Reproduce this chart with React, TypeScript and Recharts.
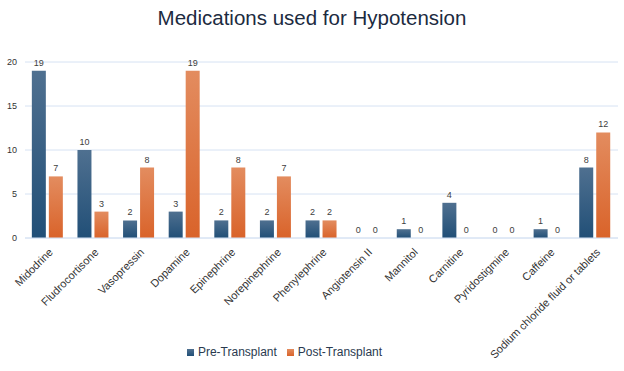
import React from "react";
import { BarChart, Bar, XAxis, YAxis, CartesianGrid, Legend, LabelList } from "recharts";

const categories = [
  "Midodrine",
  "Fludrocortisone",
  "Vasopressin",
  "Dopamine",
  "Epinephrine",
  "Norepinephrine",
  "Phenylephrine",
  "Angiotensin II",
  "Mannitol",
  "Carnitine",
  "Pyridostigmine",
  "Caffeine",
  "Sodium chloride fluid or tablets",
];
const preTransplant = [19, 10, 2, 3, 2, 2, 2, 0, 1, 4, 0, 1, 8];
const postTransplant = [7, 3, 8, 19, 8, 7, 2, 0, 0, 0, 0, 0, 12];
const yTicks = [0, 5, 10, 15, 20];

const data = categories.map((name, i) => ({
  name,
  pre: preTransplant[i],
  post: postTransplant[i],
}));

const FONT = "'Liberation Sans', Arial, sans-serif";

const XTick = (props: any) => {
  const { x, y, payload } = props;
  return (
    <g transform={`translate(${x + 3},${y + 4})`}>
      <text
        transform="rotate(-45)"
        textAnchor="end"
        dominantBaseline="central"
        fontSize={11}
        fill="#333"
        fontFamily={FONT}
      >
        {payload.value}
      </text>
    </g>
  );
};

const legendOrder = (item: any) => (item.dataKey === "pre" ? 0 : 1);

export default function App() {
  return (
    <div style={{ position: "absolute", left: 0, top: 0, width: 624, height: 371, background: "#fff", fontFamily: FONT }}>
      <svg width={0} height={0} style={{ position: "absolute" }}>
        <defs>
          <linearGradient id="gPre" x1="0" y1="0" x2="0" y2="1">
            <stop offset="0%" stopColor="#4f7090" />
            <stop offset="100%" stopColor="#214f77" />
          </linearGradient>
          <linearGradient id="gPost" x1="0" y1="0" x2="0" y2="1">
            <stop offset="0%" stopColor="#e38c5f" />
            <stop offset="100%" stopColor="#d9632a" />
          </linearGradient>
        </defs>
      </svg>
      <div
        style={{
          position: "absolute",
          top: 6,
          left: 0,
          width: 624,
          textAlign: "center",
          fontSize: 20.5,
          color: "#1c2b3f",
          fontFamily: FONT,
        }}
      >
        Medications used for Hypotension
      </div>
      <BarChart
        width={624}
        height={371}
        data={data}
        margin={{ top: 62, right: 6, bottom: 0, left: 5 }}
        barCategoryGap="15%"
        barGap={3}
      >
        <CartesianGrid vertical={false} stroke="#d6e2f3" />
        <XAxis
          dataKey="name"
          interval={0}
          tick={<XTick />}
          tickLine={false}
          axisLine={{ stroke: "#d6e2f3" }}
          height={107}
        />
        <YAxis
          domain={[0, 20]}
          ticks={yTicks}
          width={20}
          tickLine={false}
          axisLine={false}
          tick={{ fontSize: 9, fill: "#333", fontFamily: FONT }}
        />
        <Legend
          verticalAlign="bottom"
          height={26}
          iconType="square"
          iconSize={7}
          itemSorter={legendOrder}
          wrapperStyle={{ fontSize: 12, fontFamily: FONT, left: -17 }}
          formatter={(v: string) => <span style={{ color: "#2a3a4f" }}>{v}</span>}
        />
        <Bar dataKey="pre" name="Pre-Transplant" fill="url(#gPre)" legendType="square" isAnimationActive={false} minPointSize={0.01}>
          <LabelList dataKey="pre" position="top" fontSize={9} fill="#404040" fontFamily={FONT} />
        </Bar>
        <Bar dataKey="post" name="Post-Transplant" fill="url(#gPost)" legendType="square" isAnimationActive={false} minPointSize={0.01}>
          <LabelList dataKey="post" position="top" fontSize={9} fill="#404040" fontFamily={FONT} />
        </Bar>
      </BarChart>
    </div>
  );
}
